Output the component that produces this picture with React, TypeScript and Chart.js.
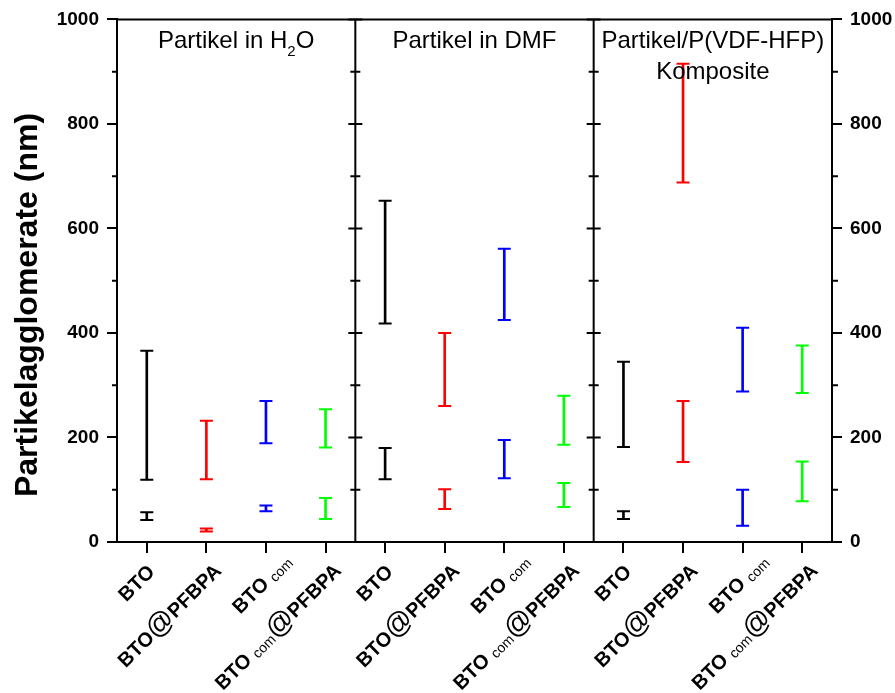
import React, { useEffect, useRef } from 'react';
import { Chart, registerables } from 'chart.js';

Chart.register(...registerables);

// ---- data ----
const categories = ['BTO', 'BTO@PFBPA', 'BTO_com', 'BTO_com@PFBPA'];
const panelTitles = ['Partikel in H_2O', 'Partikel in DMF', 'Partikel/P(VDF-HFP)\nKomposite'];
const xLabels = [...categories, ...categories, ...categories];
const seriesColors = ['#000000', '#ff0000', '#0000ff', '#00ff00'];

const upperLow = [119, 120, 189, 181, 418, 260, 425, 186, 182, 688, 288, 285];
const upperHigh = [366, 232, 270, 254, 653, 400, 561, 280, 345, 915, 410, 376];
const lowerLow = [42, 20, 59, 44, 120, 63, 122, 67, 44, 153, 31, 78];
const lowerHigh = [57, 26, 70, 84, 180, 101, 195, 113, 59, 270, 100, 154];

const yMajorTicks = [0, 200, 400, 600, 800, 1000];
const yMinorTicks = [100, 300, 500, 700, 900];
const yTitle = 'Partikelagglomerate (nm)';

const FONT = '"Liberation Sans", Arial, Helvetica, sans-serif';

// label anchor offsets (baseline end) per label type: [dx from tick, y]
const labelAnchors: Record<string, [number, number]> = {
  'BTO': [9, 573],
  'BTO@PFBPA': [16, 572],
  'BTO_com': [26.6, 562.6],
  'BTO_com@PFBPA': [16.7, 571.8],
};

type Run = { t: string; font: string; dy: number };

function labelRuns(label: string): Run[] {
  const runs: Run[] = [];
  let i = 0;
  let buf = '';
  const flush = () => {
    if (buf) runs.push({ t: buf, font: `bold 20px ${FONT}`, dy: 0 });
    buf = '';
  };
  while (i < label.length) {
    if (label.startsWith('_com', i)) {
      buf += ' ';
      flush();
      runs.push({ t: 'com', font: `14px ${FONT}`, dy: 2 });
      i += 4;
    } else if (label[i] === '@') {
      flush();
      runs.push({ t: '@', font: `28px ${FONT}`, dy: 1 });
      i += 1;
    } else {
      buf += label[i];
      i += 1;
    }
  }
  flush();
  return runs;
}

function drawSubText(ctx: CanvasRenderingContext2D, text: string, cx: number, y: number) {
  // text with "_x" subscripts, centered at cx
  const parts: Run[] = [];
  let buf = '';
  for (let i = 0; i < text.length; i++) {
    if (text[i] === '_' && i + 1 < text.length) {
      if (buf) parts.push({ t: buf, font: `24px ${FONT}`, dy: 0 });
      buf = '';
      parts.push({ t: text[i + 1], font: `15px ${FONT}`, dy: 8 });
      i++;
    } else buf += text[i];
  }
  if (buf) parts.push({ t: buf, font: `24px ${FONT}`, dy: 0 });
  let total = 0;
  const widths = parts.map((p) => {
    ctx.font = p.font;
    const w = ctx.measureText(p.t).width;
    total += w;
    return w;
  });
  let x = cx - total / 2;
  ctx.textAlign = 'left';
  ctx.textBaseline = 'alphabetic';
  parts.forEach((p, k) => {
    ctx.font = p.font;
    ctx.fillText(p.t, x, y + p.dy);
    x += widths[k];
  });
}

const decorPlugin = {
  id: 'decor',
  afterDatasetsDraw(chart: any) {
    const ctx: CanvasRenderingContext2D = chart.ctx;
    ctx.save();
    ctx.lineWidth = 2;
    chart.data.datasets.forEach((ds: any, di: number) => {
      const meta = chart.getDatasetMeta(di);
      meta.data.forEach((el: any, i: number) => {
        const color = Array.isArray(ds.backgroundColor) ? ds.backgroundColor[i] : ds.backgroundColor;
        ctx.strokeStyle = color;
        ctx.beginPath();
        ctx.moveTo(el.x - 6.5, el.y);
        ctx.lineTo(el.x + 6.5, el.y);
        ctx.moveTo(el.x - 6.5, el.base);
        ctx.lineTo(el.x + 6.5, el.base);
        ctx.stroke();
      });
    });
    ctx.restore();
  },
  afterDraw(chart: any) {
    const ctx: CanvasRenderingContext2D = chart.ctx;
    const area = chart.chartArea;
    const xs = chart.scales.x;
    const ys = chart.scales.y;
    ctx.save();
    ctx.strokeStyle = '#000';
    ctx.fillStyle = '#000';
    ctx.lineWidth = 2;

    // top border
    ctx.beginPath();
    ctx.moveTo(area.left - 1, area.top);
    ctx.lineTo(area.right + 1, area.top);
    ctx.stroke();

    // minor ticks on left/right axes
    ctx.beginPath();
    yMinorTicks.forEach((v) => {
      const py = ys.getPixelForValue(v);
      ctx.moveTo(area.left - 5, py);
      ctx.lineTo(area.left, py);
      ctx.moveTo(area.right, py);
      ctx.lineTo(area.right + 6, py);
    });
    ctx.stroke();

    // panel dividers
    const per = categories.length;
    const dividers: number[] = [];
    for (let p = 1; p < panelTitles.length; p++) {
      const a = xs.getPixelForValue(p * per - 1);
      const b = xs.getPixelForValue(p * per);
      dividers.push((a + b) / 2);
    }
    ctx.beginPath();
    dividers.forEach((dx) => {
      ctx.moveTo(dx, area.top);
      ctx.lineTo(dx, area.bottom);
      yMajorTicks.forEach((v) => {
        const py = ys.getPixelForValue(v);
        ctx.moveTo(dx - 7, py);
        ctx.lineTo(dx + 7, py);
      });
      yMinorTicks.forEach((v) => {
        const py = ys.getPixelForValue(v);
        ctx.moveTo(dx - 5, py);
        ctx.lineTo(dx + 5, py);
      });
    });
    ctx.stroke();

    // panel titles
    const bounds = [area.left, ...dividers, area.right];
    panelTitles.forEach((t, p) => {
      const cx = (bounds[p] + bounds[p + 1]) / 2;
      const lines = t.split('\n');
      lines.forEach((ln, li) => {
        drawSubText(ctx, ln, cx, area.top + 28.5 + li * 31.5);
      });
    });

    // y title
    ctx.save();
    ctx.translate(28, 305);
    ctx.rotate(-Math.PI / 2);
    ctx.font = `bold 32px ${FONT}`;
    ctx.textAlign = 'center';
    ctx.textBaseline = 'middle';
    ctx.fillText(yTitle, 0, 0);
    ctx.restore();

    // x labels
    xLabels.forEach((lab, i) => {
      const px = xs.getPixelForValue(i);
      const anchor = labelAnchors[lab] || [10, 570];
      const runs = labelRuns(lab);
      let total = 0;
      const widths = runs.map((r) => {
        ctx.font = r.font;
        const w = ctx.measureText(r.t).width;
        total += w;
        return w;
      });
      ctx.save();
      ctx.translate(px + anchor[0], anchor[1]);
      ctx.rotate(-Math.PI / 4);
      ctx.textAlign = 'left';
      ctx.textBaseline = 'alphabetic';
      let x = -total;
      runs.forEach((r, k) => {
        ctx.font = r.font;
        ctx.fillText(r.t, x, r.dy);
        x += widths[k];
      });
      ctx.restore();
    });

    ctx.restore();
  },
};

export default function App() {
  const ref = useRef<HTMLCanvasElement | null>(null);
  useEffect(() => {
    if (!ref.current) return;
    const colors = xLabels.map((_, i) => seriesColors[i % seriesColors.length]);
    const yAxisCommon = (pos: 'left' | 'right', w: number) => ({
      type: 'linear' as const,
      position: pos,
      min: 0,
      max: 1000,
      ticks: {
        stepSize: 200,
        color: '#000',
        padding: 8,
        font: { family: FONT, size: 19, weight: 'bold' as const },
        callback: (v: any) => String(v),
      },
      grid: { drawOnChartArea: false, drawTicks: true, tickLength: 10, color: '#000', lineWidth: 2 },
      border: { display: true, color: '#000', width: 2 },
      afterFit: (s: any) => {
        s.width = w;
      },
    });
    const chart = new Chart(ref.current, {
      type: 'bar',
      data: {
        labels: xLabels,
        datasets: [
          {
            label: 'upper',
            data: upperLow.map((v, i) => [v, upperHigh[i]]) as any,
            backgroundColor: colors,
            borderWidth: 0,
            barThickness: 2,
            grouped: false,
            yAxisID: 'y',
          },
          {
            label: 'lower',
            data: lowerLow.map((v, i) => [v, lowerHigh[i]]) as any,
            backgroundColor: colors,
            borderWidth: 0,
            barThickness: 2,
            grouped: false,
            yAxisID: 'y',
          },
        ],
      },
      options: {
        responsive: false,
        animation: false,
        devicePixelRatio: 1,
        layout: { padding: { top: 19, left: 0, right: 0, bottom: 0 } },
        plugins: { legend: { display: false }, tooltip: { enabled: false } },
        scales: {
          x: {
            type: 'category',
            offset: true,
            grid: { offset: false, drawOnChartArea: false, drawTicks: true, tickLength: 11, color: '#000', lineWidth: 2 },
            border: { display: true, color: '#000', width: 2 },
            ticks: { display: false },
            afterFit: (s: any) => {
              s.height = 151;
            },
          },
          y: yAxisCommon('left', 117) as any,
          y2: yAxisCommon('right', 63) as any,
        },
      },
      plugins: [decorPlugin],
    });
    return () => chart.destroy();
  }, []);
  return (
    <div style={{ position: 'absolute', left: 0, top: 0, width: 895, height: 693, background: '#fff' }}>
      <canvas ref={ref} width={895} height={693} style={{ display: 'block', width: 895, height: 693 }} />
    </div>
  );
}
